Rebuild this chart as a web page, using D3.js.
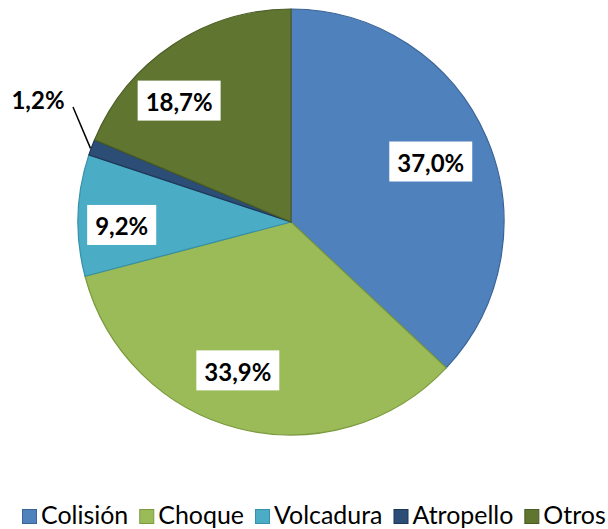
<!DOCTYPE html>
<html><head><meta charset="utf-8">
<script src="https://cdn.jsdelivr.net/npm/d3@7"></script>
<style>body{margin:0;background:#fff}svg{display:block}</style>
</head><body>
<svg id="c" width="608" height="529"></svg>
<script>
const categories = ["Colisión", "Choque", "Volcadura", "Atropello", "Otros"];
const values = [37.0, 33.9, 9.2, 1.2, 18.7];
const labels = ["37,0%", "33,9%", "9,2%", "1,2%", "18,7%"];
const colors = ["#4F81BD", "#9BBB59", "#4BACC6", "#2C4D75", "#5F7530"];
const strokes = ["#3A6496", "#7A9A3D", "#3590A8", "#1E3757", "#4A5C24"];

const svg = d3.select("#c");
const cx = 291, cy = 222, R = 213;
const g = svg.append("g").attr("transform", `translate(${cx},${cy})`);
const pie = d3.pie().sort(null).value(d => d)(values);
const arc = d3.arc().innerRadius(0).outerRadius(R);
g.selectAll("path").data(pie).join("path")
  .attr("d", arc).attr("fill", (d,i)=>colors[i])
  .attr("stroke", (d,i)=>strokes[i]).attr("stroke-width", 1.2).attr("stroke-linejoin","round");

const font = "Lato, Calibri, Carlito, sans-serif";
const probe = svg.append("text").attr("font-family", font).attr("font-weight","bold").attr("font-size", 20).text("37,0%");
const lfs = 20 * 67 / probe.node().getComputedTextLength();
probe.remove();

const lrf = [0.715, 0.74, 0.795, 0, 0.775];
const lao = [0, 5.5, -2.8, 0, -9];
pie.forEach((d,i) => {
  const a = (d.startAngle + d.endAngle)/2;
  if (i === 3) {
    const px = R*Math.sin(a), py = -R*Math.cos(a);
    g.append("line").attr("x1", px - 1).attr("y1", py + 1).attr("x2", 73-cx).attr("y2", 107-cy)
      .attr("stroke", "#000").attr("stroke-width", 1.5);
    g.append("text").attr("x", 38-cx).attr("y", 99-cy).attr("text-anchor","middle")
      .attr("dominant-baseline","central").attr("font-family", font).attr("font-weight","bold")
      .attr("font-size", lfs).attr("fill","#000").text(labels[i]);
    return;
  }
  const aa = a + lao[i]*Math.PI/180;
  const r = R*lrf[i];
  const x = r*Math.sin(aa), y = -r*Math.cos(aa);
  const t = g.append("text").attr("x", x).attr("y", y + 1).attr("text-anchor","middle")
    .attr("dominant-baseline","central").attr("font-family", font).attr("font-weight","bold")
    .attr("font-size", lfs).attr("fill","#000").text(labels[i]);
  const w = t.node().getComputedTextLength();
  g.insert("rect", () => t.node()).attr("x", x - w/2 - 8).attr("y", y - 20).attr("width", w + 16).attr("height", 40).attr("fill", "#fff");
});

// legend: fit between x=22 and x=606
const sq = 15, gap1 = 4, gap2 = 11;
const p2 = svg.append("text").attr("font-family", font).attr("font-size", 20);
let tw = 0;
categories.forEach(c => { p2.text(c); tw += p2.node().getComputedTextLength(); });
p2.remove();
const avail = 584 - categories.length*(sq+gap1) - (categories.length-1)*gap2;
const fs = 20 * avail / tw;
let xpos = 22;
categories.forEach((c,i) => {
  svg.append("rect").attr("x", xpos + 0.5).attr("y", 509.5).attr("width", sq - 1).attr("height", sq - 1)
    .attr("fill", colors[i]).attr("stroke", strokes[i]).attr("stroke-width", 1);
  const t = svg.append("text").attr("x", xpos + sq + gap1).attr("y", 524).attr("font-family", font)
    .attr("font-size", fs).attr("fill", "#000").text(c);
  xpos += sq + gap1 + t.node().getComputedTextLength() + gap2;
});
</script>
</body></html>
